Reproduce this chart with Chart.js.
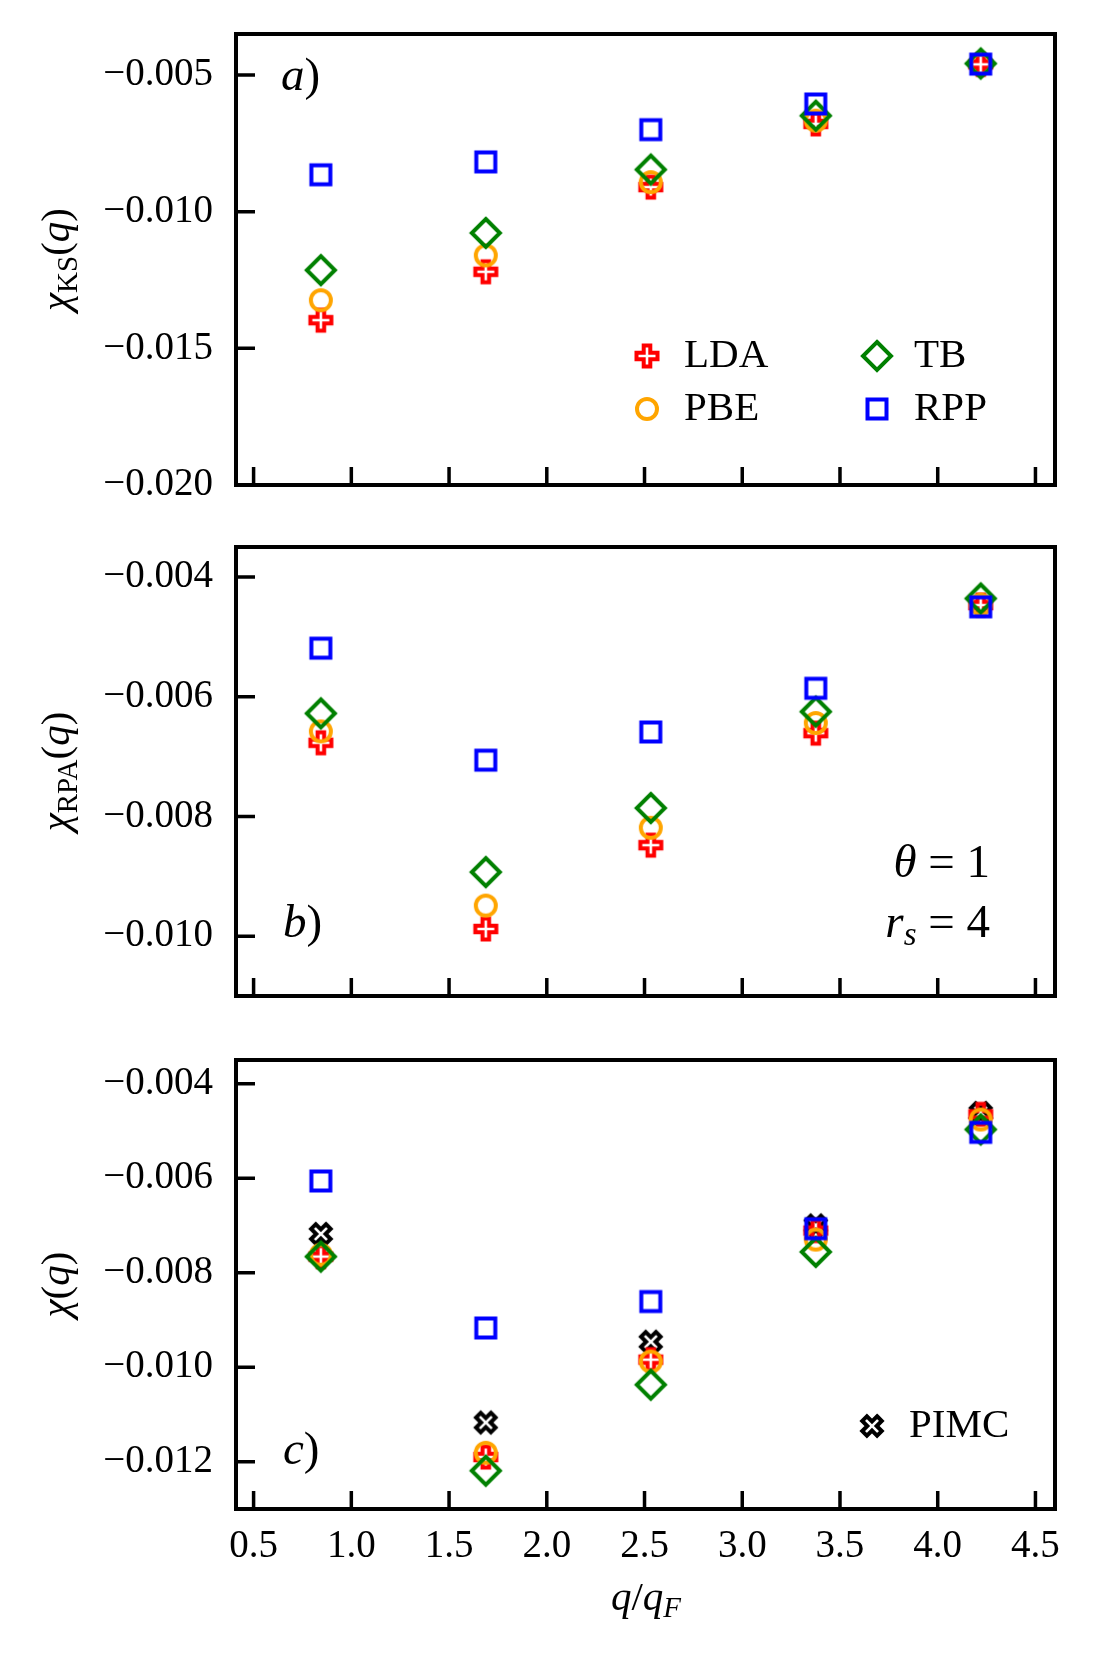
<!DOCTYPE html>
<html><head><meta charset="utf-8">
<script src="https://cdn.jsdelivr.net/npm/chart.js@4.4.1/dist/chart.umd.min.js"></script>
<style>
html,body{margin:0;padding:0;background:#fff;}
body{width:1096px;height:1655px;position:relative;overflow:hidden;}
canvas{position:absolute;left:0;}
</style>
</head><body>
<canvas id="ca" width="1096" height="520" style="top:0px;width:1096px;height:520px"></canvas>
<canvas id="cb" width="1096" height="500" style="top:520px;width:1096px;height:500px"></canvas>
<canvas id="cc" width="1096" height="615" style="top:1040px;width:1096px;height:615px"></canvas>
<script>
// ---------------- data ----------------
const qValues = [0.844, 1.688, 2.532, 3.376, 4.220];
const xTicks = [0.5, 1.0, 1.5, 2.0, 2.5, 3.0, 3.5, 4.0, 4.5];

// a) chi_KS
const ksLDA = [-0.01397, -0.01220, -0.00910, -0.00679, -0.00461];
const ksPBE = [-0.01324, -0.01160, -0.00892, -0.00667, -0.00460];
const ksTB  = [-0.01214, -0.01078, -0.00846, -0.00649, -0.00458];
const ksRPP = [-0.00865, -0.00818, -0.00700, -0.00606, -0.00460];
const yTicksA = [-0.020, -0.015, -0.010, -0.005];

// b) chi_RPA
const rpaLDA = [-0.00677, -0.00988, -0.00848, -0.00661, -0.00447];
const rpaPBE = [-0.00658, -0.00949, -0.00819, -0.00644, -0.00446];
const rpaTB  = [-0.00628, -0.00893, -0.00786, -0.00625, -0.00436];
const rpaRPP = [-0.00519, -0.00706, -0.00659, -0.00586, -0.00450];
const yTicksB = [-0.010, -0.008, -0.006, -0.004];

// c) chi
const fullLDA  = [-0.00766, -0.01190, -0.00984, -0.00711, -0.00465];
const fullPBE  = [-0.00762, -0.01181, -0.00988, -0.00730, -0.00476];
const fullTB   = [-0.00766, -0.01219, -0.01037, -0.00756, -0.00497];
const fullRPP  = [-0.00606, -0.00917, -0.00861, -0.00707, -0.00503];
const fullPIMC = [-0.00718, -0.01117, -0.00946, -0.00700, -0.00462];
const yTicksC = [-0.012, -0.010, -0.008, -0.006, -0.004];

// ---------------- styling ----------------
const FAM = '"Liberation Serif", "DejaVu Serif", serif';
const fR = s => s + 'px ' + FAM;
const fI = s => 'italic ' + s + 'px ' + FAM;

function markerCanvas(kind, color) {
  const c = document.createElement('canvas'); c.width = 44; c.height = 44;
  const g = c.getContext('2d'); g.translate(22, 22);
  g.strokeStyle = color; g.lineWidth = 4; g.lineJoin = 'miter';
  g.beginPath();
  if (kind === 'circle') g.arc(0, 0, 10, 0, 2 * Math.PI);
  else if (kind === 'square') g.rect(-9.5, -9.5, 19, 19);
  else if (kind === 'diamond') { g.moveTo(0, -14); g.lineTo(14, 0); g.lineTo(0, 14); g.lineTo(-14, 0); g.closePath(); }
  else {
    if (kind === 'x') g.rotate(Math.PI / 4);
    const a = 10.5, b = 3.3;
    const pts = [[-b,-a],[b,-a],[b,-b],[a,-b],[a,b],[b,b],[b,a],[-b,a],[-b,b],[-a,b],[-a,-b],[-b,-b]];
    pts.forEach((p, i) => i ? g.lineTo(p[0], p[1]) : g.moveTo(p[0], p[1]));
    g.closePath();
  }
  g.stroke();
  return c;
}
const M = {
  LDA: markerCanvas('plus', '#ff0000'),
  PBE: markerCanvas('circle', '#ffa500'),
  TB: markerCanvas('diamond', '#008000'),
  RPP: markerCanvas('square', '#0000ff'),
  PIMC: markerCanvas('x', '#000000')
};
const ORDER = {RPP: 0, TB: 1, PBE: 2, LDA: 3, PIMC: 4};

function rich(ctx, parts, x, y, align) {
  let w = 0;
  parts.forEach(p => { ctx.font = p.f; p.w = ctx.measureText(p.t).width; w += p.w; });
  let cx = align === 'center' ? x - w / 2 : (align === 'right' ? x - w : x);
  ctx.textBaseline = 'alphabetic'; ctx.textAlign = 'left'; ctx.fillStyle = '#000';
  parts.forEach(p => { ctx.font = p.f; ctx.fillText(p.t, cx, y + (p.dy || 0)); cx += p.w; });
}
function yTitle(ctx, parts, x, yc) {
  ctx.save(); ctx.translate(x, yc); ctx.rotate(-Math.PI / 2);
  rich(ctx, parts, 0, 0, 'center'); ctx.restore();
}
function legendItem(ctx, name, x, y) {
  const m = M[name];
  ctx.drawImage(m, x - m.width / 2, y - m.height / 2);
  ctx.font = fR(41); ctx.fillStyle = '#000'; ctx.textAlign = 'left'; ctx.textBaseline = 'alphabetic';
  ctx.fillText(name, x + 37, y + 11);
}
const fmtY = v => '\u2212' + Math.abs(v).toFixed(3);

function makeChart(id, cfg) {
  const datasets = cfg.series.map(s => ({
    label: s.name,
    data: qValues.map((q, i) => ({x: q, y: s.values[i]})),
    pointStyle: M[s.name], pointRadius: 12, pointHoverRadius: 12,
    order: ORDER[s.name], showLine: false
  }));
  return new Chart(document.getElementById(id), {
    type: 'scatter',
    data: {datasets},
    options: {
      responsive: false, animation: false, devicePixelRatio: 1,
      events: [],
      layout: {padding: {top: cfg.padTop, left: 0, right: 41, bottom: 0}, autoPadding: false},
      plugins: {legend: {display: false}, tooltip: {enabled: false}},
      scales: {
        x: {
          type: 'linear', min: 0.41, max: 4.60,
          afterBuildTicks: s => { s.ticks = xTicks.map(v => ({value: v})); },
          afterFit: s => { s.height = cfg.xH; s.paddingLeft = 0; s.paddingRight = 0; s.paddingTop = 0; s.paddingBottom = 0; },
          grid: {display: false, drawTicks: false}, border: {display: false},
          ticks: {display: cfg.showX, padding: 14, color: '#000', font: {family: FAM, size: 39},
                  maxRotation: 0, autoSkip: false, callback: v => Number(v).toFixed(1)}
        },
        y: {
          type: 'linear', min: cfg.ymin, max: cfg.ymax,
          afterBuildTicks: s => { s.ticks = cfg.yTicks.map(v => ({value: v})); },
          afterFit: s => { s.width = 236; s.paddingTop = 0; s.paddingBottom = 0; s.paddingLeft = 0; s.paddingRight = 0; },
          grid: {display: false, drawTicks: false}, border: {display: false},
          ticks: {padding: 23, color: '#000', font: {family: FAM, size: 39}, autoSkip: false,
                  callback: v => fmtY(v)}
        }
      }
    },
    plugins: [{
      id: 'panel_' + id,
      afterDatasetsDraw(chart) {
        const ctx = chart.ctx, a = chart.chartArea;
        const xs = chart.scales.x, ys = chart.scales.y;
        ctx.save();
        ctx.strokeStyle = '#000'; ctx.lineCap = 'butt'; ctx.lineWidth = 3.5;
        ctx.beginPath();
        xs.ticks.forEach(t => { const px = xs.getPixelForValue(t.value); ctx.moveTo(px, a.bottom); ctx.lineTo(px, a.bottom - 18); });
        ys.ticks.forEach(t => { const py = ys.getPixelForValue(t.value); ctx.moveTo(a.left, py); ctx.lineTo(a.left + 19, py); });
        ctx.stroke();
        ctx.lineWidth = 4;
        ctx.strokeRect(a.left, a.top, a.right - a.left, a.bottom - a.top);
        cfg.decorate(ctx, a);
        ctx.restore();
      }
    }]
  });
}

makeChart('ca', {
  padTop: 34, xH: 35, showX: false, ymin: -0.020, ymax: -0.0035, yTicks: yTicksA,
  series: [{name: 'LDA', values: ksLDA}, {name: 'PBE', values: ksPBE}, {name: 'TB', values: ksTB}, {name: 'RPP', values: ksRPP}],
  decorate(ctx, a) {
    rich(ctx, [{t: 'a', f: fI(47)}, {t: ')', f: fR(47)}], 281, 90, 'left');
    yTitle(ctx, [{t: '\u03c7', f: fI(41)}, {t: 'KS', f: fR(29), dy: 8}, {t: '(', f: fR(41)}, {t: 'q', f: fI(41)}, {t: ')', f: fR(41)}], 69, (a.top + a.bottom) / 2);
    legendItem(ctx, 'LDA', 647, 356);
    legendItem(ctx, 'PBE', 647, 409);
    legendItem(ctx, 'TB', 877, 356);
    legendItem(ctx, 'RPP', 877, 409);
  }
});

makeChart('cb', {
  padTop: 27, xH: 24, showX: false, ymin: -0.011, ymax: -0.0035, yTicks: yTicksB,
  series: [{name: 'LDA', values: rpaLDA}, {name: 'PBE', values: rpaPBE}, {name: 'TB', values: rpaTB}, {name: 'RPP', values: rpaRPP}],
  decorate(ctx, a) {
    rich(ctx, [{t: 'b', f: fI(47)}, {t: ')', f: fR(47)}], 283, 417, 'left');
    rich(ctx, [{t: '\u03b8', f: fI(47)}, {t: ' = ', f: fR(47)}, {t: '1', f: fR(47)}], 990, 357, 'right');
    rich(ctx, [{t: 'r', f: fI(47)}, {t: 's', f: fI(33), dy: 8}, {t: ' = ', f: fR(47)}, {t: '4', f: fR(47)}], 990, 417, 'right');
    yTitle(ctx, [{t: '\u03c7', f: fI(41)}, {t: 'RPA', f: fR(29), dy: 8}, {t: '(', f: fR(41)}, {t: 'q', f: fI(41)}, {t: ')', f: fR(41)}], 69, (a.top + a.bottom) / 2);
  }
});

makeChart('cc', {
  padTop: 20, xH: 146, showX: true, ymin: -0.013, ymax: -0.0035, yTicks: yTicksC,
  series: [{name: 'LDA', values: fullLDA}, {name: 'PBE', values: fullPBE}, {name: 'TB', values: fullTB}, {name: 'RPP', values: fullRPP}, {name: 'PIMC', values: fullPIMC}],
  decorate(ctx, a) {
    rich(ctx, [{t: 'c', f: fI(47)}, {t: ')', f: fR(47)}], 283, 424, 'left');
    yTitle(ctx, [{t: '\u03c7', f: fI(41)}, {t: '(', f: fR(41)}, {t: 'q', f: fI(41)}, {t: ')', f: fR(41)}], 69, (a.top + a.bottom) / 2);
    legendItem(ctx, 'PIMC', 872, 386);
    rich(ctx, [{t: 'q', f: fI(41)}, {t: '/', f: fR(41)}, {t: 'q', f: fI(41)}, {t: 'F', f: fI(29), dy: 7}], 646, 570, 'center');
  }
});
</script>
</body></html>
